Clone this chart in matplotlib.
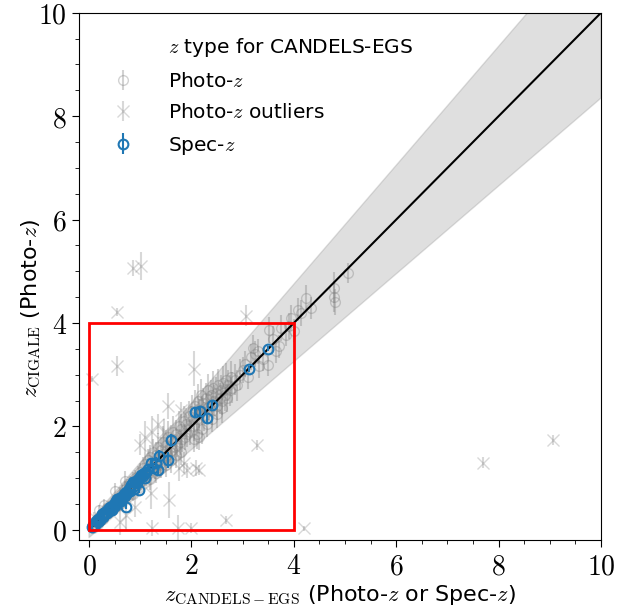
import numpy as np
import matplotlib
matplotlib.use("Agg")
import matplotlib.pyplot as plt
from matplotlib.patches import Rectangle
from matplotlib.ticker import MultipleLocator, FuncFormatter

plt.rcParams['font.family'] = ['DejaVu Sans']
plt.rcParams['mathtext.fontset'] = 'cm'

# (z_candels, z_cigale, err)
photo_z = [
    (0.05, 0.08, 0.05), (0.08, 0.03, 0.05), (0.10, 0.15, 0.06), (0.12, 0.10, 0.05),
    (0.15, 0.20, 0.08), (0.18, 0.12, 0.06), (0.20, 0.25, 0.08), (0.22, 0.18, 0.06),
    (0.25, 0.30, 0.10), (0.28, 0.22, 0.08), (0.30, 0.35, 0.10), (0.32, 0.28, 0.08),
    (0.35, 0.42, 0.10), (0.38, 0.33, 0.08), (0.40, 0.45, 0.10), (0.42, 0.38, 0.10),
    (0.45, 0.50, 0.12), (0.48, 0.44, 0.10), (0.50, 0.58, 0.12), (0.52, 0.47, 0.10),
    (0.55, 0.60, 0.12), (0.58, 0.52, 0.10), (0.60, 0.68, 0.14), (0.62, 0.57, 0.12),
    (0.65, 0.72, 0.14), (0.68, 0.62, 0.12), (0.70, 0.80, 0.15), (0.72, 0.66, 0.12),
    (0.75, 0.84, 0.15), (0.78, 0.70, 0.14), (0.80, 0.90, 0.15), (0.82, 0.76, 0.14),
    (0.85, 0.95, 0.16), (0.88, 0.80, 0.15), (0.90, 1.00, 0.16), (0.92, 0.85, 0.14),
    (0.95, 1.05, 0.18), (0.98, 0.90, 0.16), (1.00, 1.12, 0.18), (0.30, 0.48, 0.12),
    (0.50, 0.75, 0.15), (0.70, 0.95, 0.18), (0.20, 0.38, 0.10), (0.60, 0.50, 0.12),
    (0.85, 0.70, 0.15),
    (1.02, 0.95, 0.18), (1.05, 1.20, 0.20), (1.08, 1.00, 0.18), (1.10, 1.28, 0.22),
    (1.12, 1.05, 0.20), (1.15, 1.35, 0.22), (1.18, 1.10, 0.20), (1.20, 1.40, 0.25),
    (1.22, 1.15, 0.20), (1.25, 1.50, 0.25), (1.28, 1.20, 0.22), (1.30, 1.45, 0.25),
    (1.32, 1.25, 0.22), (1.35, 1.60, 0.28), (1.38, 1.30, 0.25), (1.40, 1.55, 0.25),
    (1.42, 1.35, 0.22), (1.45, 1.70, 0.30), (1.48, 1.40, 0.25), (1.50, 1.65, 0.28),
    (1.52, 1.45, 0.25), (1.55, 1.80, 0.30), (1.58, 1.50, 0.25), (1.60, 1.75, 0.28),
    (1.62, 1.55, 0.25), (1.65, 1.90, 0.30), (1.68, 1.60, 0.25), (1.70, 1.85, 0.28),
    (1.72, 1.65, 0.25), (1.75, 2.00, 0.30), (1.78, 1.70, 0.25), (1.80, 1.95, 0.30),
    (1.82, 1.75, 0.25), (1.85, 2.10, 0.30), (1.88, 1.80, 0.25), (1.90, 2.05, 0.30),
    (1.92, 1.85, 0.25), (1.95, 2.20, 0.30), (1.98, 1.90, 0.25), (2.00, 2.10, 0.30),
    (1.40, 1.20, 0.20), (1.50, 1.25, 0.22), (1.60, 1.35, 0.25), (1.70, 1.45, 0.25),
    (1.80, 1.50, 0.25), (2.05, 1.75, 0.25), (2.10, 1.85, 0.28), (2.15, 1.80, 0.25),
    (2.20, 1.95, 0.28), (1.30, 1.10, 0.20), (1.20, 0.98, 0.20),
    (2.02, 2.30, 0.30), (2.05, 2.00, 0.28), (2.08, 2.40, 0.30), (2.10, 2.15, 0.28),
    (2.12, 2.50, 0.32), (2.15, 2.25, 0.28), (2.18, 2.60, 0.32), (2.20, 2.30, 0.28),
    (2.22, 2.45, 0.30), (2.25, 2.20, 0.28), (2.28, 2.55, 0.30), (2.30, 2.35, 0.28),
    (2.32, 2.70, 0.32), (2.35, 2.40, 0.28), (2.38, 2.60, 0.30), (2.40, 2.30, 0.28),
    (2.42, 2.75, 0.32), (2.45, 2.50, 0.30), (2.48, 2.65, 0.30), (2.50, 2.40, 0.28),
    (2.52, 2.80, 0.32), (2.55, 2.55, 0.30), (2.58, 2.70, 0.30), (2.60, 2.50, 0.28),
    (2.62, 2.85, 0.32), (2.65, 2.60, 0.30), (2.68, 2.90, 0.32), (2.70, 2.55, 0.28),
    (2.72, 2.80, 0.30), (2.75, 2.70, 0.30), (2.78, 2.95, 0.32), (2.80, 2.75, 0.30),
    (2.85, 2.90, 0.30), (2.90, 2.80, 0.30), (2.95, 3.00, 0.30), (2.50, 2.25, 0.28),
    (2.60, 2.35, 0.28), (2.30, 2.05, 0.25), (2.40, 2.15, 0.25),
    (3.16, 3.35, 0.25), (3.20, 3.52, 0.25), (3.32, 3.16, 0.22), (3.49, 3.19, 0.22),
    (3.52, 3.87, 0.25), (3.71, 3.55, 0.22), (3.75, 3.90, 0.25), (3.85, 3.77, 0.22),
    (3.95, 4.10, 0.25), (4.08, 4.26, 0.22), (4.24, 4.49, 0.25), (4.34, 4.29, 0.22),
    (4.79, 4.68, 0.30), (4.79, 4.51, 0.30), (5.05, 4.97, 0.20), (3.05, 3.20, 0.25),
    (3.10, 2.95, 0.22), (3.25, 3.40, 0.25), (3.40, 3.30, 0.22), (3.60, 3.70, 0.25),
    (3.65, 3.45, 0.22), (3.90, 3.95, 0.25), (4.00, 3.85, 0.22), (4.15, 4.20, 0.25),
    (4.80, 4.40, 0.25), (3.00, 3.10, 0.25), (3.30, 3.45, 0.25),
]

outliers = [
    (0.85, 5.06, 0.15), (1.02, 5.11, 0.27), (0.55, 4.22, 0.08), (3.07, 4.14, 0.20),
    (0.55, 3.17, 0.20), (0.05, 2.92, 0.06), (2.05, 3.12, 0.33), (3.29, 1.64, 0.10),
    (1.54, 2.39, 0.25), (1.24, 1.90, 0.30), (1.47, 1.90, 0.25), (2.09, 1.20, 0.15),
    (2.15, 1.16, 0.10), (1.21, 0.71, 0.30), (1.57, 0.58, 0.35), (0.72, 0.29, 0.30),
    (1.24, 0.04, 0.15), (1.73, 0.04, 0.25), (1.99, 0.04, 0.10), (2.68, 0.19, 0.08),
    (4.20, 0.03, 0.05), (7.69, 1.30, 0.10), (9.06, 1.74, 0.10), (0.10, 0.25, 0.10),
    (1.00, 1.65, 0.20), (1.10, 1.80, 0.30), (1.35, 2.05, 0.20), (1.80, 2.32, 0.15),
    (1.75, 1.20, 0.25), (1.85, 1.30, 0.20), (1.92, 1.15, 0.15), (0.90, 0.45, 0.20),
    (0.60, 0.15, 0.25),
]

spec_z = [
    (0.05, 0.05, 0.02), (0.08, 0.10, 0.02), (0.12, 0.10, 0.02), (0.14, 0.18, 0.02),
    (0.17, 0.15, 0.02), (0.20, 0.22, 0.03), (0.22, 0.20, 0.02), (0.25, 0.30, 0.03),
    (0.27, 0.25, 0.03), (0.30, 0.28, 0.02), (0.32, 0.35, 0.03), (0.35, 0.33, 0.03),
    (0.38, 0.40, 0.03), (0.40, 0.36, 0.03), (0.42, 0.45, 0.03), (0.45, 0.42, 0.04),
    (0.48, 0.50, 0.04), (0.50, 0.47, 0.04), (0.52, 0.55, 0.04), (0.55, 0.52, 0.04),
    (0.58, 0.60, 0.04), (0.60, 0.57, 0.04), (0.62, 0.64, 0.05), (0.65, 0.62, 0.05),
    (0.68, 0.70, 0.05), (0.70, 0.66, 0.05), (0.72, 0.45, 0.05), (0.73, 0.74, 0.05),
    (0.75, 0.72, 0.05), (0.78, 0.80, 0.05), (0.80, 0.76, 0.05), (0.83, 0.86, 0.05),
    (0.85, 0.93, 0.06), (0.88, 0.85, 0.05), (0.90, 0.92, 0.05), (0.93, 0.90, 0.06),
    (0.95, 0.98, 0.06), (0.98, 0.77, 0.06), (1.00, 1.02, 0.06), (1.02, 1.06, 0.06),
    (1.05, 1.05, 0.07), (1.08, 1.10, 0.06), (1.12, 1.12, 0.07), (1.15, 1.18, 0.07),
    (1.21, 1.29, 0.08), (1.25, 1.20, 0.08), (1.34, 1.16, 0.10), (1.37, 1.43, 0.12),
    (1.55, 1.35, 0.15), (1.60, 1.73, 0.12), (2.07, 2.27, 0.10), (2.17, 2.29, 0.10),
    (2.30, 2.16, 0.10), (2.40, 2.42, 0.08), (3.13, 3.11, 0.05), (3.50, 3.50, 0.05),
    (0.30, 0.33, 0.03), (0.18, 0.22, 0.02), (0.45, 0.38, 0.03), (0.55, 0.60, 0.04),
    (0.63, 0.55, 0.04), (0.87, 0.80, 0.05), (1.10, 1.00, 0.06), (1.30, 1.30, 0.10),
]

zmax = 10
box_size = 4


def main():
    fig = plt.figure(figsize=(6.3, 6.07), dpi=100)
    ax = fig.add_axes([0.125, 0.110, 0.829, 0.869])

    # 1:1 line with a 0.15(1+z) band
    zz = np.array([0, zmax])
    ax.fill_between(zz, zz - 0.15 * (1 + zz), zz + 0.15 * (1 + zz),
                    color='gray', alpha=0.25, lw=1, zorder=1)

    px, py, pe = np.array(photo_z).T
    h1 = ax.errorbar(px, py, yerr=pe, fmt='o', mfc='none', mec='gray', ecolor='gray',
                     ms=7, alpha=0.35, elinewidth=1.5, zorder=2)
    ox, oy, oe = np.array(outliers).T
    h2 = ax.errorbar(ox, oy, yerr=oe, fmt='x', color='gray', ms=9, alpha=0.3,
                     elinewidth=1.5, zorder=2)
    ax.plot(zz, zz, color='k', lw=1.5, zorder=3)
    sx, sy, se = np.array(spec_z).T
    h3 = ax.errorbar(sx, sy, yerr=se, fmt='o', mfc='none', mec='C0', ecolor='C0',
                     ms=7, mew=1.5, elinewidth=1.5, zorder=4)

    ax.add_patch(Rectangle((0, 0), box_size, box_size, fill=False, ec='red', lw=2, zorder=5))

    ax.set_xlim(-0.2, zmax)
    ax.set_ylim(-0.2, zmax)
    for a in (ax.xaxis, ax.yaxis):
        a.set_major_locator(MultipleLocator(2))
        a.set_minor_locator(MultipleLocator(0.5))
        a.set_major_formatter(FuncFormatter(lambda v, p: f'${v:g}$'))
    ax.tick_params(which='major', length=5, labelsize=20)
    ax.tick_params(which='minor', length=3)

    ax.set_xlabel(r'$z_{\rm CANDELS-EGS}$ (Photo-$z$ or Spec-$z$)', fontsize=16, labelpad=2)
    ax.set_ylabel(r'$z_{\rm CIGALE}$ (Photo-$z$)', fontsize=16)
    ax.yaxis.set_label_coords(-0.068, 0.44)

    title = plt.Line2D([], [], linestyle='none')
    ax.legend([title, h1, h2, h3],
              [r'$z$ type for CANDELS-EGS', r'Photo-$z$', r'Photo-$z$ outliers', r'Spec-$z$'],
              loc='upper left', bbox_to_anchor=(0.012, 0.99), frameon=False,
              fontsize=14.5, labelspacing=0.62, handletextpad=1.2)

    plt.savefig("out.png")


if __name__ == '__main__':
    main()
